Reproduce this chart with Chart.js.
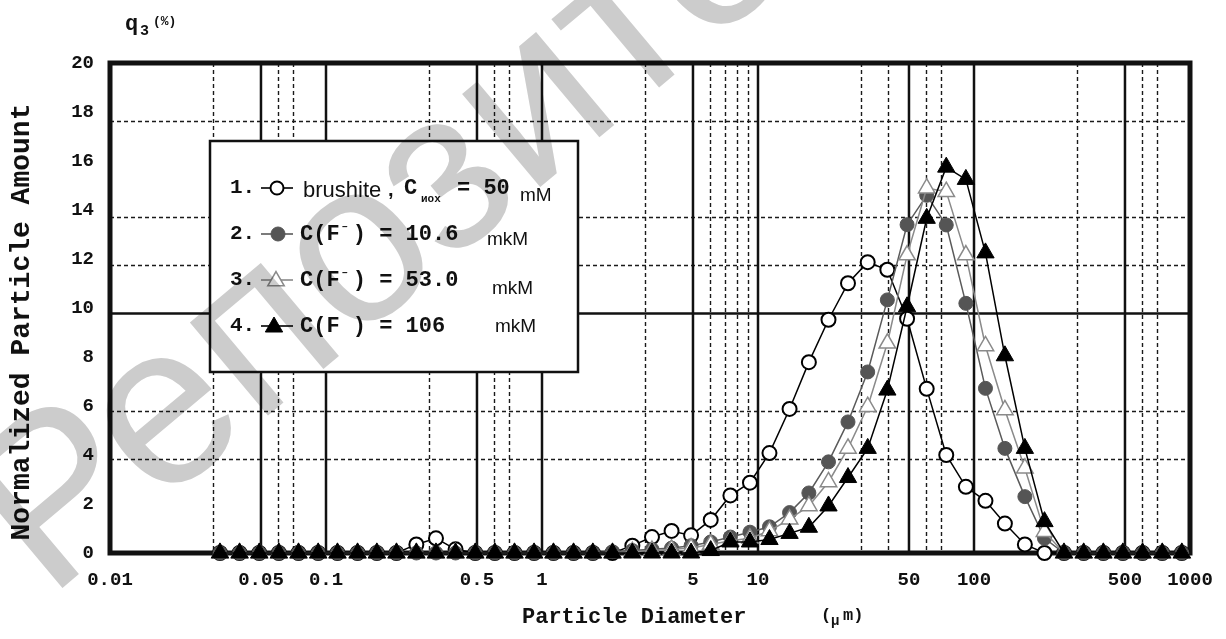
<!DOCTYPE html>
<html><head><meta charset="utf-8">
<script src="https://cdn.jsdelivr.net/npm/chart.js@4.4.1/dist/chart.umd.min.js"></script>
<style>html,body{margin:0;padding:0;background:#fff;overflow:hidden}</style>
</head><body>
<canvas id="c" width="1226" height="639" style="display:block;width:1226px;height:639px"></canvas>
<script>
// ---- data ----
const diameters = [0.0323,0.0398,0.0491,0.0605,0.0746,0.092,0.113,0.140,0.172,0.212,
  0.262,0.323,0.398,0.491,0.605,0.746,0.919,1.13,1.40,1.72,
  2.12,2.62,3.23,3.98,4.90,6.04,7.45,9.18,11.3,14.0,
  17.2,21.2,26.1,32.2,39.7,49.0,60.4,74.4,91.7,113,
  139,172,212,261,322,397,489,603,744,917];
const brushite = [0,0,0,0,0,0,0,0,0,0,
  0.35,0.6,0.15,0,0,0,0,0,0,0,
  0,0.3,0.65,0.9,0.72,1.35,2.35,2.87,4.08,5.88,
  7.79,9.52,11.01,11.87,11.56,9.56,6.7,4.0,2.7,2.13,
  1.2,0.35,0,0,0,0,0,0,0,0];
const fluoride10 = [0,0,0,0,0,0,0,0,0,0,
  0,0,0,0,0,0,0,0,0,0,
  0.05,0.1,0.15,0.2,0.3,0.45,0.65,0.85,1.07,1.65,
  2.45,3.72,5.35,7.39,10.33,13.4,14.6,13.39,10.19,6.72,
  4.27,2.3,0.6,0,0,0,0,0,0,0];
const fluoride53 = [0,0,0,0,0,0,0,0,0,0,
  0,0,0,0,0,0,0,0,0,0,
  0,0.05,0.1,0.15,0.2,0.35,0.5,0.6,0.9,1.38,
  1.92,2.9,4.27,5.97,8.56,12.16,14.89,14.75,12.16,8.45,
  5.84,3.46,0.87,0,0,0,0,0,0,0];
const fluoride106 = [0,0,0,0,0,0,0,0,0,0,
  0,0,0,0,0,0,0,0,0,0,
  0,0,0,0,0,0.1,0.45,0.45,0.55,0.8,
  1.05,1.92,3.08,4.27,6.65,10.05,13.66,15.75,15.25,12.25,
  8.05,4.27,1.28,0,0,0,0,0,0,0];
const seriesNames = ['brushite, C = 50 mM','C(F-) = 10.6 mkM','C(F-) = 53.0 mkM','C(F ) = 106 mkM'];
const xTickValues = [0.01,0.05,0.1,0.5,1,5,10,50,100,500,1000];
const xTickLabels = ['0.01','0.05','0.1','0.5','1','5','10','50','100','500','1000'];
const yTickValues = [0,2,4,6,8,10,12,14,16,18,20];
const xGridSolid = [0.05,0.1,0.5,1,5,10,50,100,500];
const xGridDashed = [0.03,0.06,0.07,0.3,0.6,0.7,3,6,7,8,9,30,40,60,70,300,600,700];
const yGridDashed = [3.84,5.8,11.76,13.7,17.64];
const yGridSolid = [9.78];

const MONO = "'Liberation Mono','DejaVu Sans Mono',monospace";
const SANS = "'Liberation Sans',Arial,sans-serif";

function pts(arr){ return diameters.map((d,i)=>({x:d,y:arr[i]})); }

const gridPlugin = {
  id:'gridFrame',
  beforeDatasetsDraw(chart){
    const {ctx, chartArea:a, scales:{x,y}} = chart;
    ctx.save();
    ctx.strokeStyle = '#1a1a1a';
    ctx.lineWidth = 1.4;
    ctx.setLineDash([4,3]);
    xGridDashed.forEach(v=>{ const px = Math.round(x.getPixelForValue(v))+0.5;
      ctx.beginPath(); ctx.moveTo(px,a.top); ctx.lineTo(px,a.bottom); ctx.stroke(); });
    yGridDashed.forEach(v=>{ const py = Math.round(y.getPixelForValue(v))+0.5;
      ctx.beginPath(); ctx.moveTo(a.left,py); ctx.lineTo(a.right,py); ctx.stroke(); });
    ctx.setLineDash([]);
    ctx.lineWidth = 2.5;
    ctx.strokeStyle = '#111';
    xGridSolid.forEach(v=>{ const px = x.getPixelForValue(v);
      ctx.beginPath(); ctx.moveTo(px,a.top); ctx.lineTo(px,a.bottom); ctx.stroke(); });
    yGridSolid.forEach(v=>{ const py = y.getPixelForValue(v);
      ctx.beginPath(); ctx.moveTo(a.left,py); ctx.lineTo(a.right,py); ctx.stroke(); });
    // frame
    ctx.lineWidth = 5;
    ctx.strokeStyle = '#111';
    ctx.strokeRect(a.left, a.top, a.right-a.left, a.bottom-a.top);
    // legend box
    ctx.fillStyle = '#fff';
    ctx.fillRect(210,141,368,231);
    ctx.lineWidth = 2.5;
    ctx.strokeRect(210,141,368,231);
    ctx.restore();
  }
};

function marker(ctx, style, x, y, r, fill, stroke, lw){
  ctx.fillStyle = fill; ctx.strokeStyle = stroke; ctx.lineWidth = lw;
  Chart.helpers.drawPoint(ctx, {pointStyle:style, radius:r, borderWidth:lw, rotation:0}, x, y);
}
function txt(ctx, s, x, y, font, align){
  ctx.font = font; ctx.textAlign = align || 'left'; ctx.fillText(s, x, y);
}

const textPlugin = {
  id:'texts',
  afterDraw(chart){
    const ctx = chart.ctx;
    ctx.save();
    ctx.fillStyle = '#111';
    ctx.textBaseline = 'middle';
    // legend rows
    const bold22 = 'bold 22px ' + MONO;
    const rows = [188, 234, 280, 326];
    ['1.','2.','3.','4.'].forEach((s,i)=>{ ctx.fillStyle='#111'; txt(ctx, s, 230, rows[i], 'bold 21px ' + MONO); });
    // markers & short lines
    const lines = [['#000',1.6],['#5a5a5a',1.6],['#8a8a8a',1.6],['#000',1.6]];
    rows.forEach((yy,i)=>{ ctx.strokeStyle = lines[i][0]; ctx.lineWidth = lines[i][1];
      ctx.beginPath(); ctx.moveTo(261,yy); ctx.lineTo(293,yy); ctx.stroke(); });
    marker(ctx,'circle',277,rows[0],6.5,'#fff','#000',2);
    marker(ctx,'circle',278,rows[1],7,'#555','#555',1);
    marker(ctx,'triangle',276,rows[2]+1,9.5,'#fff','#8a8a8a',1.5);
    marker(ctx,'triangle',274,rows[3]+1,10,'#000','#000',1);
    ctx.fillStyle = '#111';
    // row 1
    txt(ctx, 'brushite', 303, rows[0]+3, '22px ' + SANS);
    txt(ctx, ',', 388, rows[0]+2, 'bold 20px ' + SANS);
    txt(ctx, 'C', 404, rows[0], bold22);
    txt(ctx, 'иох', 421, rows[0]+11, 'bold 11px ' + MONO);
    txt(ctx, '= 50', 457, rows[0], bold22);
    txt(ctx, 'mM', 520, rows[0]+8, '19px ' + SANS);
    // row 2-4
    const cw = 13.2;
    function fRow(yy, sup, rest){
      txt(ctx, 'C(F', 300, yy, bold22);
      if (sup) txt(ctx, '\u2013', 300+3*cw+2, yy-8, 'bold 11px ' + MONO);
      txt(ctx, rest, 300+4*cw, yy, bold22);
    }
    fRow(rows[1], true, ') = 10.6');
    fRow(rows[2], true, ') = 53.0');
    fRow(rows[3], false, ') = 106');
    txt(ctx, 'mkM', 487, rows[1]+6, '19px ' + SANS);
    txt(ctx, 'mkM', 492, rows[2]+9, '19px ' + SANS);
    txt(ctx, 'mkM', 495, rows[3]+1, '19px ' + SANS);
    // axis titles
    txt(ctx, 'Particle Diameter', 522, 617, 'bold 22px ' + MONO);
    txt(ctx, '(', 821, 616, 'bold 17px ' + MONO);
    txt(ctx, '\u03bc', 831, 621, 'bold 14px ' + MONO);
    txt(ctx, 'm)', 843, 616, 'bold 17px ' + MONO);
    ctx.save();
    ctx.translate(22, 322);
    ctx.rotate(-Math.PI/2);
    txt(ctx, 'Normalized Particle Amount', 0, 0, 'bold 28px ' + MONO, 'center');
    ctx.restore();
    // q3 (%)
    txt(ctx, 'q', 125, 24, 'bold 22px ' + MONO);
    txt(ctx, '3', 140, 31, 'bold 15px ' + MONO);
    txt(ctx, '(%)', 153, 22, 'bold 13px ' + MONO);
    // watermark
    ctx.globalCompositeOperation = 'multiply';
    ctx.fillStyle = '#cccccc';
    ctx.translate(48, 600);
    ctx.rotate(-40*Math.PI/180);
    ctx.textBaseline = 'alphabetic';
    txt(ctx, 'Репозиторий', 0, 0, '230px ' + SANS);
    ctx.restore();
  }
};

const ds = (label, arr, o) => Object.assign({label, data:pts(arr), clip:false, borderWidth:1.5,
  tension:0, fill:false, pointHoverRadius:0}, o);

new Chart(document.getElementById('c'), {
  type:'line',
  data:{datasets:[
    ds(seriesNames[3], fluoride106, {borderColor:'#000', pointStyle:'triangle', pointRadius:10,
      pointBackgroundColor:'#000', pointBorderColor:'#000', pointBorderWidth:1, order:0}),
    ds(seriesNames[2], fluoride53, {borderColor:'#8a8a8a', pointStyle:'triangle', pointRadius:9.5,
      pointBackgroundColor:'#fff', pointBorderColor:'#8a8a8a', pointBorderWidth:1.5, order:1}),
    ds(seriesNames[1], fluoride10, {borderColor:'#5a5a5a', pointStyle:'circle', pointRadius:7,
      pointBackgroundColor:'#555', pointBorderColor:'#555', pointBorderWidth:1, order:2}),
    ds(seriesNames[0], brushite, {borderColor:'#000', pointStyle:'circle', pointRadius:7,
      pointBackgroundColor:'#fff', pointBorderColor:'#000', pointBorderWidth:2, order:3})
  ]},
  options:{
    responsive:false, animation:false, devicePixelRatio:1,
    layout:{padding:{left:0,right:36,top:63,bottom:0}},
    plugins:{legend:{display:false}, tooltip:{enabled:false}},
    events:[],
    scales:{
      x:{type:'logarithmic', min:0.01, max:1000,
        grid:{display:false}, border:{display:false},
        afterBuildTicks:(s)=>{ s.ticks = xTickValues.map(v=>({value:v})); },
        afterFit:(s)=>{ s.height = 86; },
        ticks:{autoSkip:false, maxRotation:0, minRotation:0, padding:8, color:'#111',
          font:{family:MONO, size:19, weight:'bold'},
          callback:(v,i)=>xTickLabels[i]}},
      y:{type:'linear', min:0, max:20,
        grid:{display:false}, border:{display:false},
        afterBuildTicks:(s)=>{ s.ticks = yTickValues.map(v=>({value:v})); },
        afterFit:(s)=>{ s.width = 110; },
        ticks:{padding:8, color:'#111', font:{family:MONO, size:19, weight:'bold'},
          callback:(v)=>String(v)}}
    }
  },
  plugins:[gridPlugin, textPlugin]
});
</script>
</body></html>
